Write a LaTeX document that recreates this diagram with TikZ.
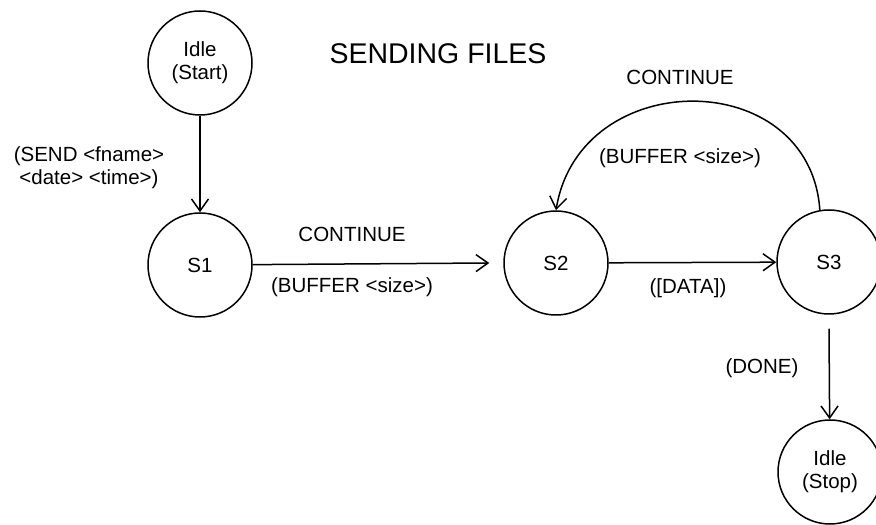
\documentclass[tikz,border=0pt]{standalone}
\usepackage{fontspec}
\setmainfont{Liberation Sans}
\usetikzlibrary{arrows.meta}

\tikzset{
	statenode/.style={circle,draw,line width=1.5pt,minimum size=104pt,inner sep=0pt,align=center,font=\fontsize{20.5}{23}\selectfont},
	lbl/.style={align=center,font=\fontsize{20.5}{23}\selectfont},
	trans/.style={line width=1.5pt,-{Straight Barb[length=12pt,width=17pt,line width=1.5pt]}}
}

\begin{document}
\begin{tikzpicture}[x=1pt,y=1pt]

			\useasboundingbox (0,0) rectangle (876,525);

			\coordinate (A) at (200,462);
			\coordinate (B) at (200,260);
			\coordinate (C) at (556,262);
			\coordinate (D) at (829,263);
			\coordinate (E) at (830,53);

			\node[statenode] (start) at (A) {Idle\\(Start)};
			\node[statenode] (s1) at (B) {S1};
			\node[statenode] (s2) at (C) {S2};
			\node[statenode] (s3) at (D) {S3};
			\node[statenode] (stop) at (E) {Idle\\(Stop)};

			\draw[trans] (start) -- (s1);
			\draw[trans] (s1) -- ([xshift=-14pt]s2.west);
			\draw[trans] (s2) -- (s3);
			\draw[trans] (s3.100) .. controls +(-10,145) and +(24,145) .. (s2.north);
			\draw[trans] ([yshift=-14pt]s3.south) -- (stop);

			\node[font=\fontsize{28.5}{32}\selectfont] (title) at (438,471) {SENDING FILES};

			\node[lbl] (send) at (89,357) {(SEND <fname>\\<date> <time>)};
			\node[lbl] (cont1) at (352,291) {CONTINUE};
			\node[lbl] (buf1) at (352,238) {(BUFFER <size>)};
			\node[lbl] (cont2) at (680,448) {CONTINUE};
			\node[lbl] (buf2) at (680,367) {(BUFFER <size>)};
			\node[lbl] (data) at (688,237) {([DATA])};
			\node[lbl] (done) at (762,157) {(DONE)};
		\end{tikzpicture}
\end{document}
